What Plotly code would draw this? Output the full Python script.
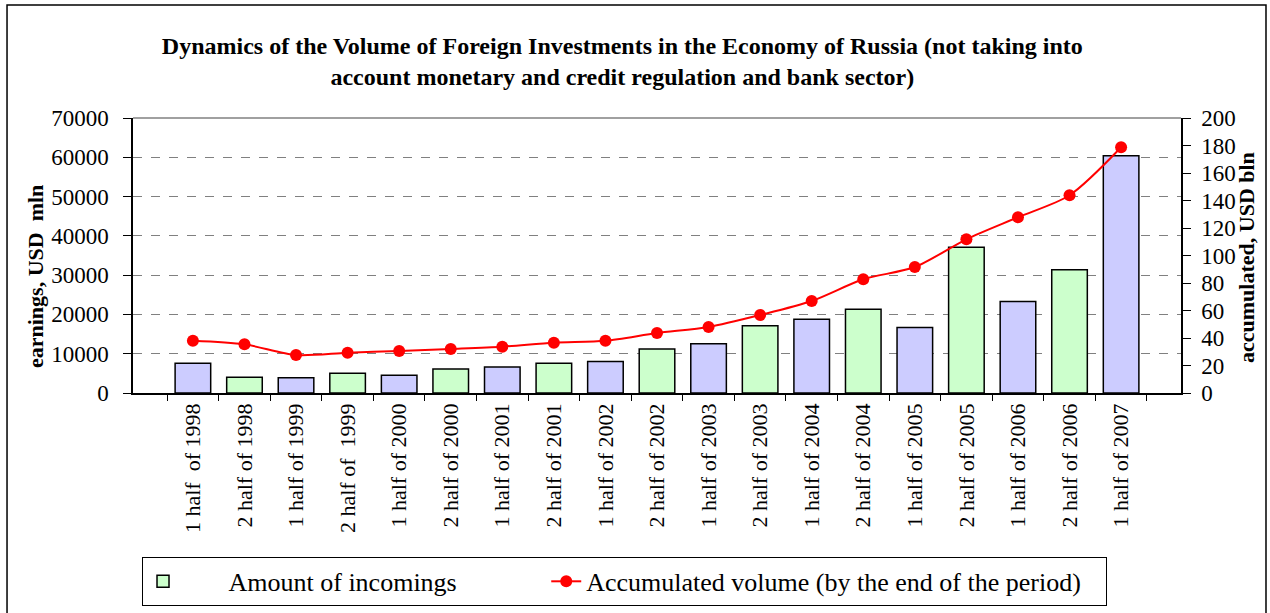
import plotly.graph_objects as go

categories = [
    "1 half \u00a0of 1998", "2 half of 1998", "1 half of 1999", "2 half of \u00a01999",
    "1 half of 2000", "2 half of 2000", "1 half of 2001", "2 half of 2001",
    "1 half of 2002", "2 half of 2002", "1 half of 2003", "2 half of 2003",
    "1 half of 2004", "2 half of 2004", "1 half of 2005", "2 half of 2005",
    "1 half of 2006", "2 half of 2006", "1 half of 2007",
]
incomings = [7600, 4000, 3900, 5000, 4500, 6100, 6600, 7600, 8000, 11200,
             12550, 17100, 18800, 21300, 16700, 37100, 23300, 31400, 60400]
accumulated = [38.0, 35.4, 27.6, 29.3, 30.5, 32.0, 33.7, 36.6, 38.0, 43.6,
               48.0, 56.7, 66.9, 82.7, 91.6, 111.8, 127.8, 143.8, 178.7]

FONT = "Liberation Serif, Times New Roman, serif"
BLUE = "#CCCCFF"
GREEN = "#CCFFCC"
NB = "\u00a0"

first_idx = [i for i in range(len(categories)) if i % 2 == 0]
second_idx = [i for i in range(len(categories)) if i % 2 == 1]

fig = go.Figure()
fig.add_trace(go.Bar(
    x=[categories[i] for i in first_idx], y=[incomings[i] for i in first_idx],
    marker=dict(color=BLUE, line=dict(color="black", width=1.5)),
    showlegend=False, name="1st half",
))
fig.add_trace(go.Bar(
    x=[categories[i] for i in second_idx], y=[incomings[i] for i in second_idx],
    marker=dict(color=GREEN, line=dict(color="black", width=1.5)),
    name=NB * 7 + "Amount of incomings" + NB * 13,
))
fig.add_trace(go.Scatter(
    x=categories, y=accumulated, yaxis="y2", mode="lines+markers",
    line=dict(color="#FF0000", width=2, shape="spline", smoothing=0.8),
    marker=dict(color="#FF0000", size=12),
    name="Accumulated volume (by the end of the period)" + NB * 3,
))

fig.update_layout(
    width=1270, height=613,
    margin=dict(l=133, r=89, t=118, b=220, autoexpand=False),
    paper_bgcolor="white", plot_bgcolor="white",
    font=dict(family=FONT, color="black", size=22),
    barmode="overlay", bargap=0.31,
    title=dict(
        text="<b>Dynamics of the Volume of Foreign Investments in the Economy of Russia (not taking into<br>account monetary and credit regulation and bank sector)</b>",
        x=0.49, xanchor="center", y=0.912, yanchor="top",
        font=dict(family=FONT, size=24, color="black"),
    ),
    xaxis=dict(
        type="category", categoryorder="array", categoryarray=categories,
        tickangle=-90, tickfont=dict(size=22), showline=True, linecolor="black",
        linewidth=1.5, ticks="outside", tickson="boundaries", ticklen=6,
        tickcolor="black", showgrid=False, zeroline=False,
    ),
    yaxis=dict(
        range=[0, 70000], dtick=10000, tickformat="d", showline=True,
        linecolor="black", linewidth=1.5, ticks="outside", ticklen=8,
        tickcolor="black", showgrid=True, gridcolor="#808080", griddash="dash",
        gridwidth=1, zeroline=False, tickfont=dict(size=23), ticklabelstandoff=10,
    ),
    yaxis2=dict(
        range=[0, 200], dtick=20, overlaying="y", side="right", showline=True,
        linecolor="black", linewidth=1.5, ticks="outside", ticklen=8,
        tickcolor="black", showgrid=False, zeroline=False, tickfont=dict(size=23),
        ticklabelstandoff=6,
    ),
    legend=dict(
        orientation="h", x=0.0086, xanchor="left", y=-0.596, yanchor="top",
        bordercolor="black", borderwidth=1, font=dict(size=26, family=FONT),
        bgcolor="white", traceorder="normal",
    ),
    shapes=[
        dict(type="line", xref="paper", yref="paper", x0=0, x1=1, y0=1, y1=1,
             line=dict(color="#808080", width=1.5)),
        dict(type="rect", xref="paper", yref="paper", x0=-0.1202, x1=1.0811,
             y0=-0.807, y1=1.411, line=dict(color="black", width=1.5)),
    ],
    annotations=[
        dict(text="<b>earnings, USD \u00a0mln</b>", xref="paper", yref="paper",
             x=-0.0935, y=0.4218, textangle=-90, showarrow=False,
             font=dict(size=22, family=FONT), xanchor="center", yanchor="middle"),
        dict(text="<b>accumulated, USD bln</b>", xref="paper", yref="paper",
             x=1.063, y=0.491, textangle=-90, showarrow=False,
             font=dict(size=22, family=FONT), xanchor="center", yanchor="middle"),
    ],
)

fig.write_html("out.html", config={"displayModeBar": False},
               post_script="document.body.style.margin='0';")
